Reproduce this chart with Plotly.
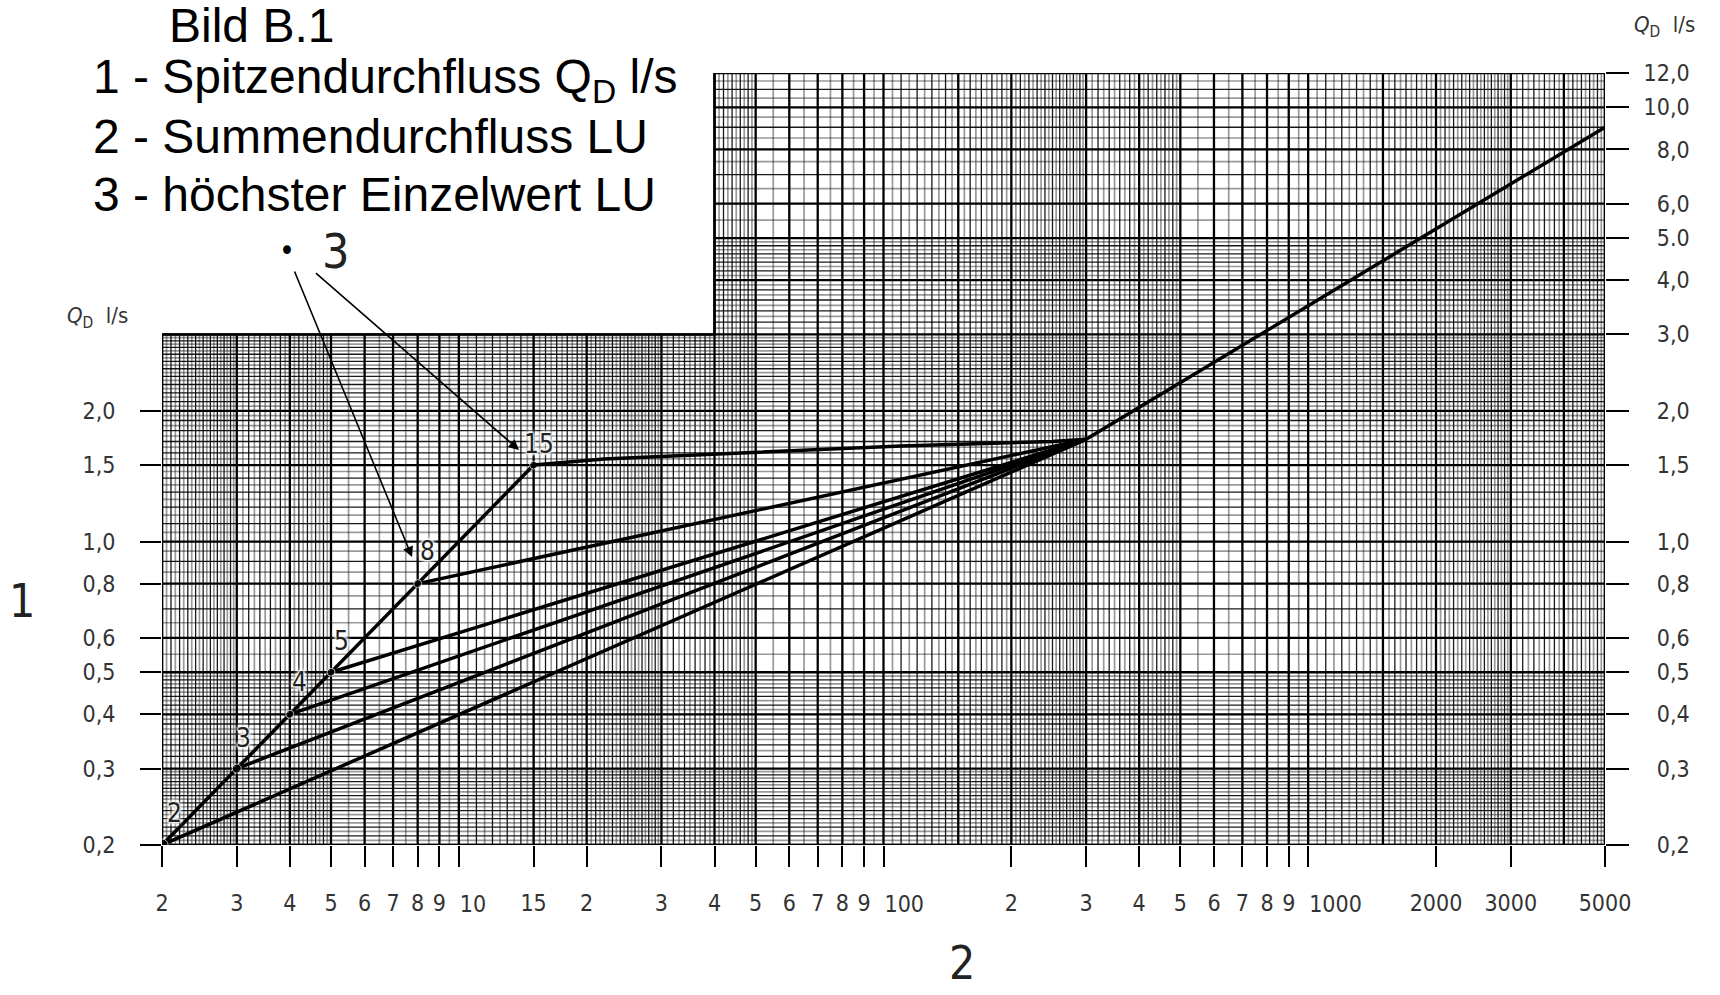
import numpy as np
import plotly.graph_objects as go

# ---------------- data ----------------
start_lu = [2, 3, 4, 5, 8, 15]            # höchster Einzelwert LU
start_q = [0.2, 0.3, 0.4, 0.5, 0.8, 1.5]  # Q_D at the start of each curve
start_labels = ["2", "3", "4", "5", "8", "15"]
label_dx = [12, 7, 10, 11, 10, 5]         # label offsets (px)
label_dy = [32, 31, 32, 31, 33, 21]

join_lu, join_q = 300, 1.72               # common point of all curves
curve15_lu = [15, 22, 110, 250, 300]
curve15_q = [1.5, 1.55, 1.66, 1.70, 1.72]
upper_lu = [300, 5000]
upper_q = [1.72, 9.0]

x_tickvals = [2, 3, 4, 5, 6, 7, 8, 9, 10, 15, 20, 30, 40, 50, 60, 70, 80, 90, 100,
              200, 300, 400, 500, 600, 700, 800, 900, 1000, 2000, 3000, 5000]
x_ticktext = ["2", "3", "4", "5", "6", "7", "8", "9", "10", "15", "2", "3", "4", "5", "6",
              "7", "8", "9", "100", "2", "3", "4", "5", "6", "7", "8", "9", "1000",
              "2000", "3000", "5000"]
x_left_aligned = [10, 100, 1000]          # these labels start at their tick
y_left_vals = [0.2, 0.3, 0.4, 0.5, 0.6, 0.8, 1.0, 1.5, 2.0]
y_left_text = ["0,2", "0,3", "0,4", "0,5", "0,6", "0,8", "1,0", "1,5", "2,0"]
y_right_vals = [0.2, 0.3, 0.4, 0.5, 0.6, 0.8, 1.0, 1.5, 2.0, 3.0, 4.0, 5.0, 6.0, 8.0, 10.0, 12.0]
y_right_text = ["0,2", "0,3", "0,4", "0,5", "0,6", "0,8", "1,0", "1,5", "2,0", "3,0",
                "4,0", "5.0", "6,0", "8,0", "10,0", "12,0"]

# ---------------- layout geometry ----------------
W, H = 1720, 995
ML, MT = 162, 73
PW, PH = 1443, 772
MR, MB = W - ML - PW, H - MT - PH
XMIN, XMAX = 2, 5000
YMIN, YMAX = 0.2, 12
XSTEP, YSTEP = 40, 3.0       # step of the paper outline

def px(x):   # screen pixel -> paper
    return (x - ML) / PW

def py(y):
    return (MT + PH - y) / PH

TICKFONT = "DejaVu Sans Condensed, Liberation Sans Narrow, Liberation Sans, sans-serif"
FS = "\u2007"  # figure space

# ---------------- log paper grid ----------------
def mults(a, b, step):
    return [round(v, 3) for v in np.arange(a, b + 1e-9, step)]

x_major_m = [1, 1.5, 2, 3, 4, 5, 6, 7, 8, 9]
y_major_m = [1, 1.5, 2, 3, 4, 5, 6, 8]
dark_m = mults(1.1, 1.9, 0.1) + mults(2.1, 2.9, 0.1) + mults(3.2, 3.8, 0.2) + mults(4.2, 4.8, 0.2)
light_m = mults(1.05, 1.95, 0.1) + mults(2.05, 2.95, 0.1) + mults(3.1, 4.9, 0.2) + [5.5, 6.5, 7.5, 8.5, 9.5]

def values(ms, bases, lo, hi):
    out = set()
    for b in bases:
        for m in ms:
            v = round(b * m, 6)
            if lo - 1e-9 <= v <= hi + 1e-9:
                out.add(v)
    return sorted(out)

xb = [1, 10, 100, 1000]
yb = [0.1, 1, 10]

def vlines(xs):
    X, Y = [], []
    for v in xs:
        top = YSTEP if v < XSTEP - 1e-9 else YMAX
        X += [v, v, None]
        Y += [YMIN, top, None]
    return X, Y

def hlines(ys):
    X, Y = [], []
    for v in ys:
        left = XMIN if v <= YSTEP + 1e-9 else XSTEP
        X += [left, XMAX, None]
        Y += [v, v, None]
    return X, Y

fig = go.Figure()

levels = [
    (values(light_m, xb, XMIN, XMAX), values(light_m, yb, YMIN, YMAX), "rgba(0,0,0,0.40)", 1.7),
    (values(dark_m, xb, XMIN, XMAX), values(dark_m + [7, 9], yb, YMIN, YMAX), "rgba(0,0,0,0.9)", 1.3),
    (values(x_major_m, xb, XMIN, XMAX), values(y_major_m, yb, YMIN, YMAX), "#000", 2.3),
]
for xs, ys, col, wd in levels:
    X1, Y1 = vlines(xs)
    X2, Y2 = hlines(ys)
    fig.add_trace(go.Scatter(x=X1 + X2, y=Y1 + Y2, mode="lines",
                             line=dict(color=col, width=wd), hoverinfo="skip"))

# outline of the stepped paper
fig.add_trace(go.Scatter(
    x=[XMIN, XMIN, XSTEP, XSTEP, XMAX, XMAX, XMIN],
    y=[YMIN, YSTEP, YSTEP, YMAX, YMAX, YMIN, YMIN],
    mode="lines", line=dict(color="#000", width=2.5), hoverinfo="skip"))

# ---------------- curves ----------------
CURVE = dict(color="#000", width=3.5)
for lu, q in zip(start_lu[:-1], start_q[:-1]):
    fig.add_trace(go.Scatter(x=[lu, join_lu], y=[q, join_q], mode="lines", line=CURVE))
fig.add_trace(go.Scatter(x=curve15_lu, y=curve15_q, mode="lines", line=CURVE, xaxis="x2"))
fig.add_trace(go.Scatter(x=start_lu, y=start_q, mode="lines+markers", line=CURVE,
                         marker=dict(color="#000", size=[12, 9, 8, 8, 8, 8])))
fig.add_trace(go.Scatter(x=upper_lu, y=upper_q, mode="lines", line=CURVE, yaxis="y2"))

# ---------------- annotations ----------------
ann = []
HALO = "0 0 2px #fff, 0 0 3px #fff, 0 0 3px #fff, 0 0 4px #fff, 0 0 5px #fff, 0 0 6px #fff"
for lu, q, t, dx, dy in zip(start_lu, start_q, start_labels, label_dx, label_dy):
    ann.append(dict(x=np.log10(lu), y=np.log10(q), xref="x", yref="y", text=t,
                    showarrow=False, xshift=dx, yshift=dy,
                    font=dict(family=TICKFONT, size=26, color="#222", shadow=HALO)))

# leader arrows from the "3" callout
arrows = [((4.09, 4.22), (7.76, 0.921)), ((4.57, 4.18), (13.86, 1.625))]
for (tx, ty), (hx, hy) in arrows:
    ann.append(dict(x=np.log10(hx), y=np.log10(hy), ax=np.log10(tx), ay=np.log10(ty),
                    xref="x", yref="y", axref="x", ayref="y", text="", showarrow=True,
                    arrowhead=2, arrowsize=1.3, arrowwidth=1.6, arrowcolor="#000", standoff=0))

TITLE = "Liberation Sans, Arial, sans-serif"
title_lines = [("Bild B.1", 167, 25), ("1 - Spitzendurchfluss Q<sub>D</sub> l/s", 91, 80),
               ("2 - Summendurchfluss LU", 91, 137), ("3 - höchster Einzelwert LU", 91, 194)]
for t, x, y in title_lines:
    ann.append(dict(x=px(x), y=py(y), xref="paper", yref="paper", text=t, showarrow=False,
                    xanchor="left", yanchor="middle", font=dict(family=TITLE, size=48, color="#000")))

misc = [("•", 287, 250, 30, "#000"), ("3", 335, 251, 48, "#222"),
        ("1", 22, 601, 46, "#222"), ("2", 962, 963, 46, "#222"),
        ("<i>Q</i><sub>D</sub>  l/s", 97, 317, 22, "#333"),
        ("<i>Q</i><sub>D</sub>  l/s", 1664, 26, 22, "#333")]
for t, x, y, s, c in misc:
    ann.append(dict(x=px(x), y=py(y), xref="paper", yref="paper", text=t, showarrow=False,
                    xanchor="center", yanchor="middle", font=dict(family=TICKFONT, size=s, color=c)))

# centred labels on the main x axis, left-aligned ones on an overlaying twin axis
x_main_text = ["" if v in x_left_aligned else t for v, t in zip(x_tickvals, x_ticktext)]
x_twin_vals = [v for v in x_tickvals if v in x_left_aligned]
x_twin_text = [t for v, t in zip(x_tickvals, x_ticktext) if v in x_left_aligned]

TF = dict(family=TICKFONT, size=23, color="#333")
XR = [np.log10(XMIN), np.log10(XMAX)]
YR = [np.log10(YMIN), np.log10(YMAX)]
fig.update_layout(
    width=W, height=H, margin=dict(l=ML, r=MR, t=MT, b=MB),
    paper_bgcolor="white", plot_bgcolor="white", showlegend=False,
    annotations=ann,
    xaxis=dict(type="log", range=XR, showgrid=False,
               zeroline=False, showline=False, tickvals=x_tickvals, ticktext=x_main_text,
               tickangle=0, ticks="outside", ticklen=21, tickwidth=2, tickcolor="#000",
               ticklabelstandoff=16, tickfont=TF),
    xaxis2=dict(type="log", range=XR, overlaying="x", side="bottom", showgrid=False,
                zeroline=False, showline=False, tickvals=x_twin_vals, ticktext=x_twin_text,
                tickangle=0, ticks="outside", ticklen=21, tickwidth=2,
                tickcolor="rgba(0,0,0,0)", ticklabelposition="outside right",
                ticklabelstandoff=38, tickfont=TF),
    yaxis=dict(type="log", range=YR, showgrid=False,
               zeroline=False, showline=False, tickvals=y_left_vals, ticktext=y_left_text,
               ticks="outside", ticklen=21, tickwidth=2, tickcolor="#000",
               ticklabelstandoff=20, tickfont=TF),
    yaxis2=dict(type="log", range=YR, overlaying="y",
                side="right", showgrid=False, zeroline=False, showline=False,
                tickvals=y_right_vals,
                ticktext=[(FS + t) if len(t) == 3 else t for t in y_right_text],
                ticks="outside", ticklen=23, tickwidth=2, tickcolor="#000",
                ticklabelstandoff=10, tickfont=TF),
)

fig.write_html("out.html", config={"displayModeBar": False},
               post_script="document.body.style.margin='0px';document.body.style.overflow='hidden';")
